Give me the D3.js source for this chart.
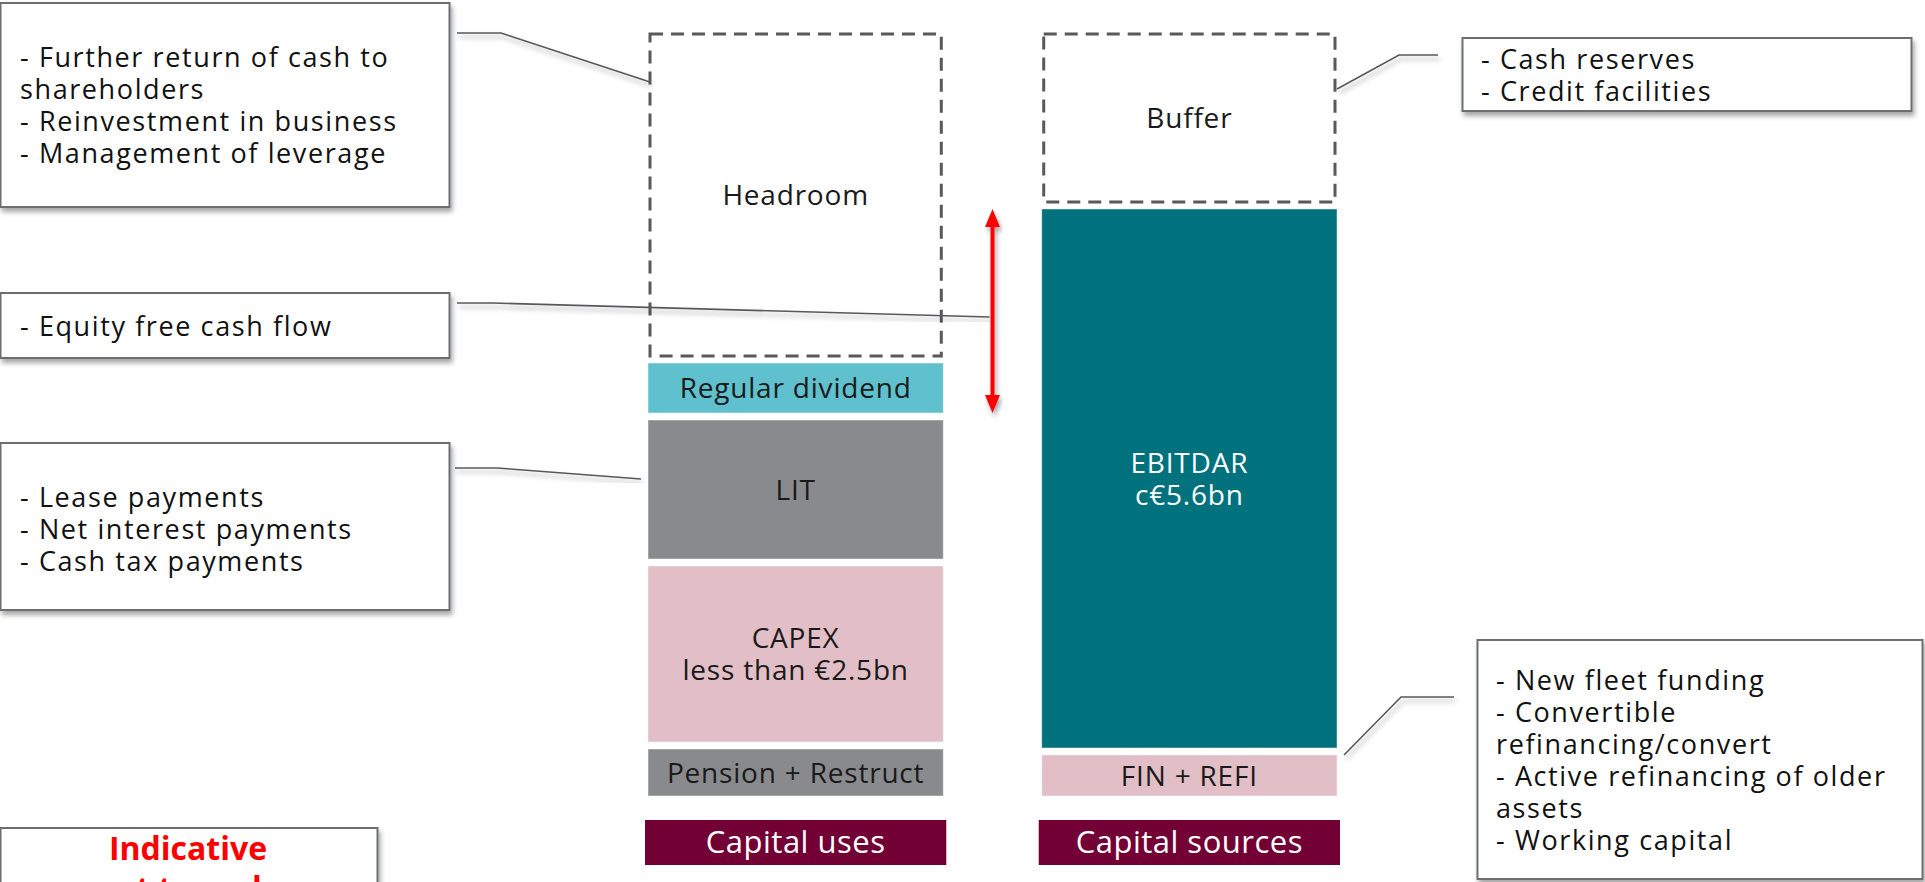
<!DOCTYPE html>
<html>
<head>
<meta charset="utf-8">
<script src="https://cdn.jsdelivr.net/npm/d3@7"></script>
<style>
  body { margin: 0; background: #fff; }
  svg { display: block; }
  text { font-family: "Open Sans", sans-serif; }
</style>
</head>
<body>
<svg id="chart" width="1925" height="882"></svg>
<script>
// columns of the chart
var columns = ["Capital uses", "Capital sources"];

// segments, bottom to top (indicative sizes read off the picture, not to scale)
var usesNames = ["Pension + Restruct", "CAPEX", "LIT", "Regular dividend", "Headroom"];
var usesLines = [["Pension + Restruct"], ["CAPEX", "less than €2.5bn"], ["LIT"], ["Regular dividend"], ["Headroom"]];
var usesValues = [54, 183, 146, 57, 329];

var sourcesNames = ["FIN + REFI", "EBITDAR", "Buffer"];
var sourcesLines = [["FIN + REFI"], ["EBITDAR", "c€5.6bn"], ["Buffer"]];
var sourcesValues = [48, 546, 175];

// callout texts
var headroomNotes = ["- Further return of cash to", "shareholders", "- Reinvestment in business", "- Management of leverage"];
var fcfNotes = ["- Equity free cash flow"];
var litNotes = ["- Lease payments", "- Net interest payments", "- Cash tax payments"];
var bufferNotes = ["- Cash reserves", "- Credit facilities"];
var finNotes = ["- New fleet funding", "- Convertible", "refinancing/convert", "- Active refinancing of older", "assets", "- Working capital"];
var disclaimer = ["Indicative", "not to scale"];

// styles per segment
var segStyle = {
  "Headroom":           { fill: "none",    dashed: true, ink: "#1a1a1a" },
  "Buffer":             { fill: "none",    dashed: true, ink: "#1a1a1a" },
  "Regular dividend":   { fill: "#5fc1cd", ink: "#1a1a1a" },
  "LIT":                { fill: "#898a8e", ink: "#1a1a1a" },
  "CAPEX":              { fill: "#e2bec7", ink: "#1a1a1a" },
  "Pension + Restruct": { fill: "#898a8e", ink: "#1a1a1a" },
  "EBITDAR":            { fill: "#00727e", ink: "#ffffff" },
  "FIN + REFI":         { fill: "#e2bec7", ink: "#1a1a1a" }
};

var svg = d3.select("#chart");
var gap = 7;

var defs = svg.append("defs");
var shadow = defs.append("filter").attr("id", "shadow")
  .attr("x", "-10%").attr("y", "-10%").attr("width", "130%").attr("height", "140%");
shadow.append("feDropShadow").attr("dx", 2).attr("dy", 4).attr("stdDeviation", 2.5)
  .attr("flood-color", "#000").attr("flood-opacity", 0.35);

var x = d3.scaleBand().domain(columns).range([648, 1337]).paddingInner(0.25);
var total = d3.max([d3.sum(usesValues), d3.sum(sourcesValues)]);
var y = d3.scaleLinear().domain([0, total]).range([796, 27]);

function stack(names, lines, values) {
  var ends = d3.cumsum(values);
  return values.map(function(v, i) {
    return { name: names[i], lines: lines[i], y0: ends[i] - v, y1: ends[i] };
  });
}

var columnData = [
  { col: columns[0], segs: stack(usesNames, usesLines, usesValues) },
  { col: columns[1], segs: stack(sourcesNames, sourcesLines, sourcesValues) }
];

// bars
columnData.forEach(function(c) {
  var g = svg.append("g");
  var seg = g.selectAll("g.seg").data(c.segs).enter().append("g").attr("class", "seg");

  seg.append("rect")
    .attr("x", function(d) { return segStyle[d.name].dashed ? x(c.col) + 2 : x(c.col); })
    .attr("width", function(d) { return segStyle[d.name].dashed ? x.bandwidth() - 4 : x.bandwidth(); })
    .attr("y", function(d) { return y(d.y1) + gap; })
    .attr("height", function(d) { return y(d.y0) - y(d.y1) - gap; })
    .attr("fill", function(d) { return segStyle[d.name].fill; })
    .attr("stroke", function(d) { return segStyle[d.name].dashed ? "#58595b" : "rgba(255,255,255,0.45)"; })
    .attr("stroke-width", function(d) { return segStyle[d.name].dashed ? 3 : 1; })
    .attr("stroke-dasharray", function(d) { return segStyle[d.name].dashed ? "13,8" : null; });

  seg.each(function(d) {
    var cy = (y(d.y1) + gap + y(d.y0)) / 2;
    var n = d.lines.length;
    d3.select(this).selectAll("text").data(d.lines).enter().append("text")
      .attr("x", x(c.col) + x.bandwidth() / 2)
      .attr("y", function(t, i) { return cy + 10 + (i - (n - 1) / 2) * 32; })
      .attr("text-anchor", "middle")
      .attr("font-size", 28)
      .attr("letter-spacing", 0.8)
      .attr("fill", segStyle[d.name].ink)
      .text(function(t) { return t; });
  });

  // column title bar
  g.append("rect")
    .attr("x", x(c.col) - 3).attr("width", x.bandwidth() + 6)
    .attr("y", 820).attr("height", 45)
    .attr("fill", "#730035");
  g.append("text")
    .attr("x", x(c.col) + x.bandwidth() / 2).attr("y", 853)
    .attr("text-anchor", "middle")
    .attr("font-size", 31).attr("letter-spacing", 0.5)
    .attr("fill", "#fff")
    .text(c.col);
});

// red double arrow: from top of EBITDAR down to the bottom of the regular dividend
var uses = columnData[0].segs, sources = columnData[1].segs;
var arrowX = x(columns[0]) + x.bandwidth() + (x(columns[1]) - x(columns[0]) - x.bandwidth()) / 2;
var arrowTop = y(sources[1].y1) + gap;
var arrowBot = y(uses[3].y0);
var arrow = svg.append("g").attr("filter", "url(#shadow)");
arrow.append("line")
  .attr("x1", arrowX).attr("x2", arrowX)
  .attr("y1", arrowTop + 14).attr("y2", arrowBot - 14)
  .attr("stroke", "#ff0000").attr("stroke-width", 4);
arrow.append("path")
  .attr("d", "M" + arrowX + "," + arrowTop + "l-7.5,18h15z")
  .attr("fill", "#ff0000");
arrow.append("path")
  .attr("d", "M" + arrowX + "," + arrowBot + "l-7.5,-18h15z")
  .attr("fill", "#ff0000");

// callouts
var xU0 = x(columns[0]);
var xS1 = x(columns[1]) + x.bandwidth();
var callouts = [
  { lines: headroomNotes, box: [0, 3, 449, 204], tx: 20, ty: 67, link: [[457, 33], [501, 33], [xU0 + 2, 82]] },
  { lines: fcfNotes,      box: [0, 293, 449, 65], tx: 20, ty: 336, link: [[457, 303], [493, 303], [arrowX - 3, 317]] },
  { lines: litNotes,      box: [0, 443, 449, 167], tx: 20, ty: 507, link: [[455, 468], [497, 468], [xU0 - 7, 479]] },
  { lines: bufferNotes,   box: [1462, 38, 449, 73], tx: 1481, ty: 69, link: [[xS1, 89], [1399, 55], [1438, 55]] },
  { lines: finNotes,      box: [1477, 640, 445, 239], tx: 1496, ty: 690, link: [[xS1 + 7, 755], [1401, 697], [1454, 697]] }
];

var line = d3.line();
callouts.forEach(function(c) {
  svg.append("path")
    .attr("d", line(c.link))
    .attr("fill", "none").attr("stroke", "#58595b").attr("stroke-width", 1.6)
    .attr("filter", "url(#shadow)");
  svg.append("rect")
    .attr("x", c.box[0] + 0.5).attr("y", c.box[1])
    .attr("width", c.box[2]).attr("height", c.box[3])
    .attr("fill", "#fff").attr("stroke", "#6d6e71").attr("stroke-width", 2)
    .attr("filter", "url(#shadow)");
  svg.append("g").selectAll("text").data(c.lines).enter().append("text")
    .attr("x", c.tx)
    .attr("y", function(t, i) { return c.ty + i * 32; })
    .attr("font-size", 27).attr("letter-spacing", 1.6)
    .attr("fill", "#111")
    .text(function(t) { return t; });
});

// disclaimer box
svg.append("rect")
  .attr("x", 0.5).attr("y", 828).attr("width", 377).attr("height", 90)
  .attr("fill", "#fff").attr("stroke", "#6d6e71").attr("stroke-width", 2)
  .attr("filter", "url(#shadow)");
svg.append("g").selectAll("text").data(disclaimer).enter().append("text")
  .attr("x", 188)
  .attr("y", function(t, i) { return 860 + i * 40; })
  .attr("text-anchor", "middle")
  .attr("font-size", 32).attr("font-weight", 700)
  .attr("fill", "#ff0000")
  .text(function(t) { return t; });
</script>
</body>
</html>
